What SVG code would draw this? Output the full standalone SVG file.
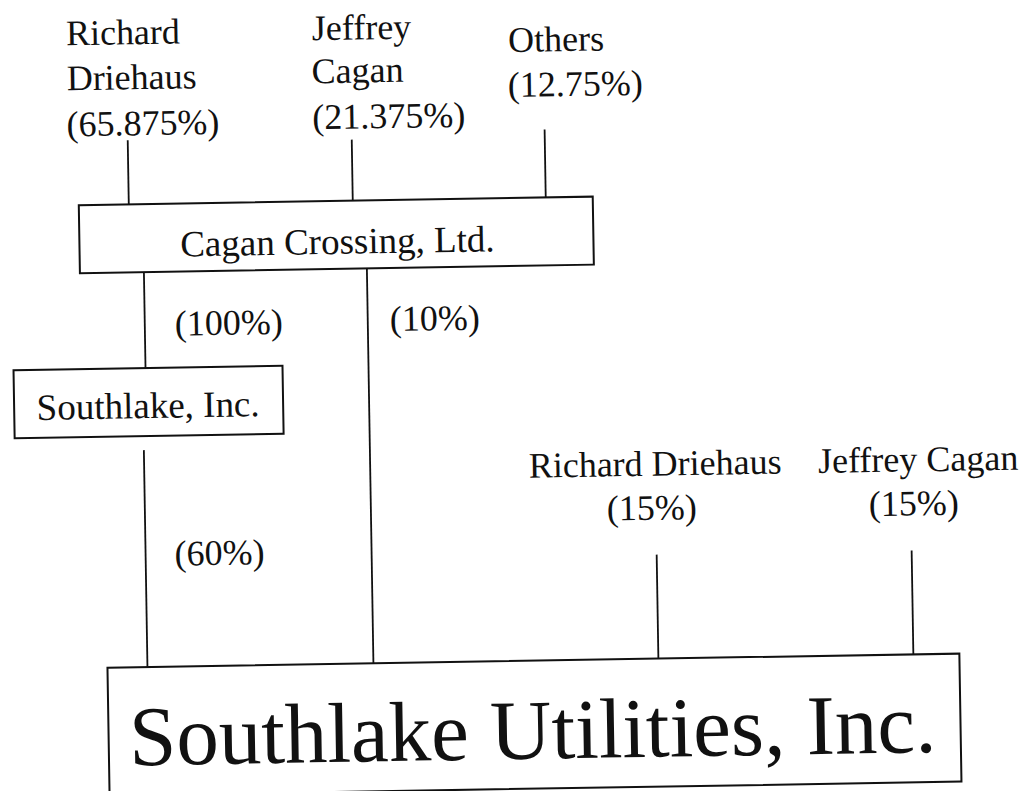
<svg xmlns="http://www.w3.org/2000/svg" width="1025" height="791" viewBox="0 0 1025 791">
<style>
text{font-family:"Liberation Serif","Times New Roman",serif;fill:#111;font-size:36px}
.m{text-anchor:middle}
.b{fill:none;stroke:#111;stroke-width:2}
.c line{stroke:#111;stroke-width:1.8}
</style>
<rect width="1025" height="791" fill="#fff"/>
<g transform="rotate(-0.95 512 395)">
<g id="owner-driehaus-top"><text x="72" y="38">Richard</text><text x="72" y="83">Driehaus</text><text x="71" y="129">(65.875%)</text></g>
<g id="owner-cagan-top"><text x="318" y="37">Jeffrey</text><text x="317" y="80">Cagan</text><text x="317" y="126">(21.375%)</text></g>
<g id="owner-others"><text x="514" y="52">Others</text><text x="513" y="97">(12.75%)</text></g>
<g id="cagan-crossing"><rect class="b" x="82" y="198" width="514" height="68"/><text class="m" x="340" y="251" style="font-size:37px">Cagan Crossing, Ltd.</text></g>
<g id="southlake-inc"><rect class="b" x="14" y="362" width="269" height="68"/><text class="m" x="148" y="412" style="font-size:37px">Southlake, Inc.</text></g>
<g id="owner-driehaus-bottom"><text class="m" x="654" y="478">Richard Driehaus</text><text class="m" x="650" y="522">(15%)</text></g>
<g id="owner-cagan-bottom"><text class="m" x="917" y="478">Jeffrey Cagan</text><text class="m" x="912" y="522">(15%)</text></g>
<g id="southlake-utilities"><rect class="b" x="103" y="661" width="852" height="128"/><text class="m" x="527" y="759" style="font-size:85px">Southlake Utilities, Inc.</text></g>
<g class="c" id="connectors">
<line x1="132" y1="134" x2="132" y2="198"/>
<line x1="356" y1="137" x2="356" y2="198"/>
<line x1="549" y1="130" x2="549" y2="198"/>
<line x1="146" y1="266" x2="146" y2="362"/>
<line x1="369" y1="266" x2="369" y2="661"/>
<line x1="143" y1="444" x2="143" y2="661"/>
<line x1="654" y1="557" x2="654" y2="661"/>
<line x1="909" y1="557" x2="909" y2="661"/>
</g>
<g id="labels">
<text x="176" y="330">(100%)</text>
<text x="391" y="329">(10%)</text>
<text x="172" y="560">(60%)</text>
</g>
</g>
</svg>
